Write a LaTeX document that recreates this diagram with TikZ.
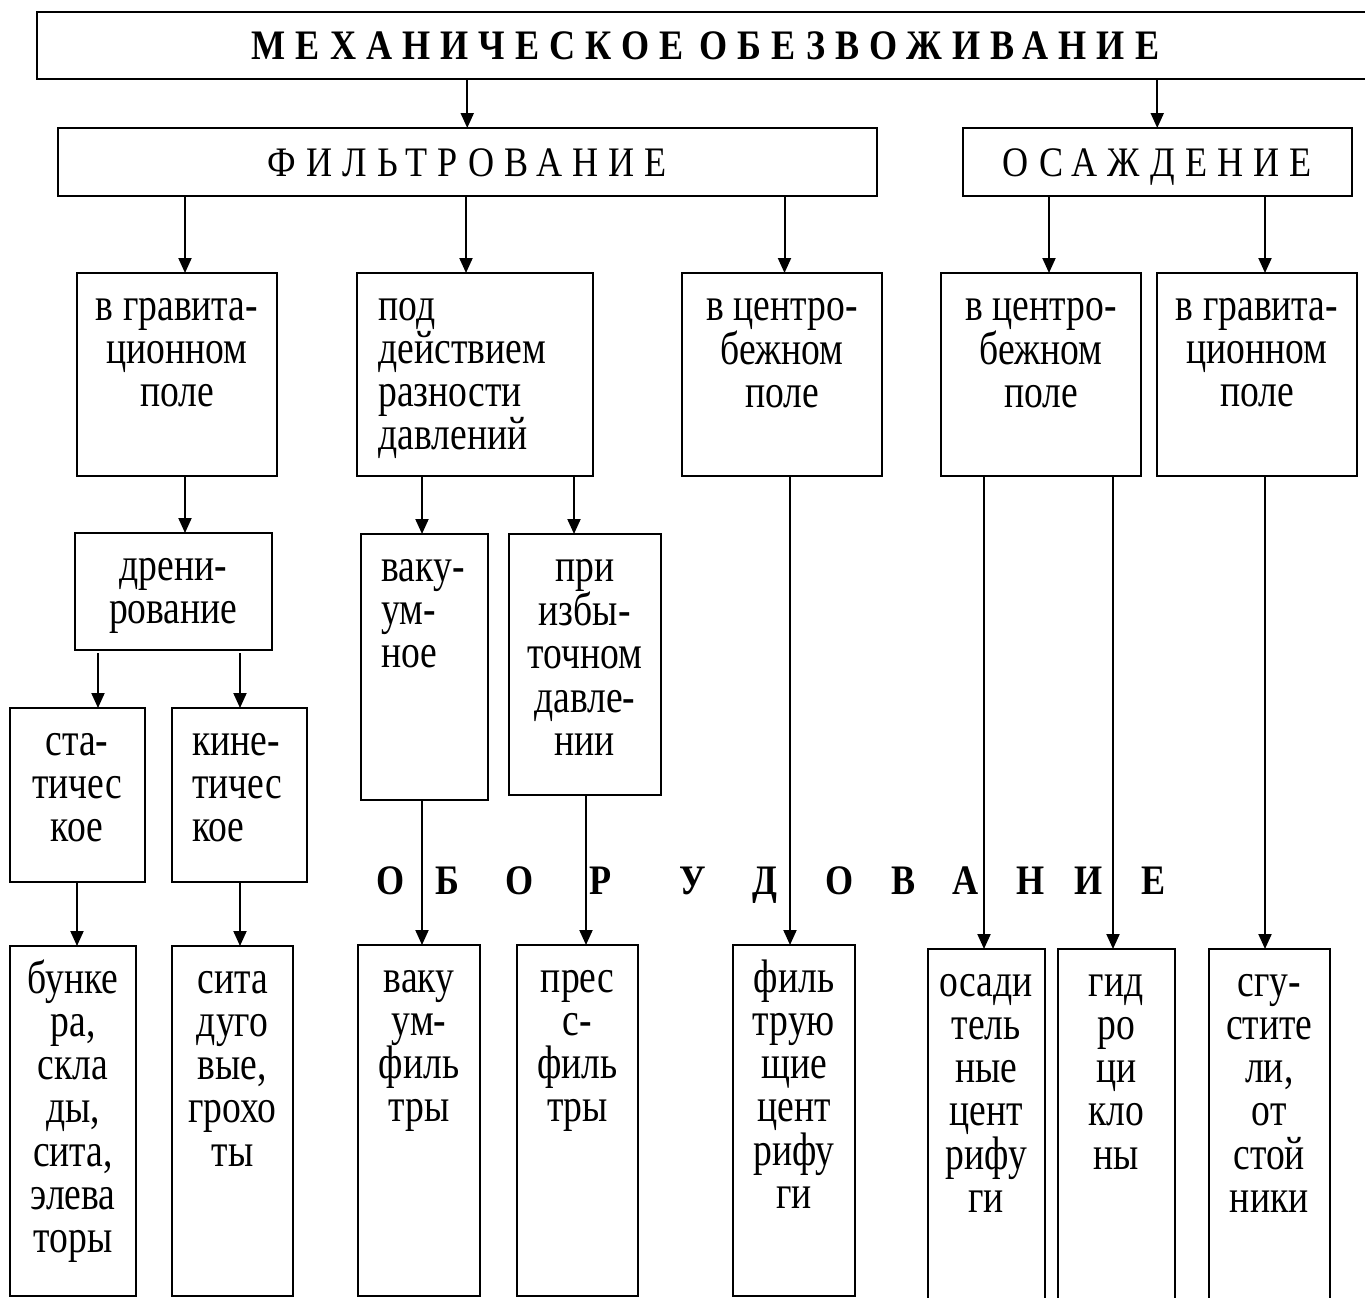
\documentclass[tikz,border=0pt]{standalone}
\usepackage{fontspec}
\setmainfont{Liberation Serif}[FakeStretch=0.80]
\newfontfamily\spacedfont{Liberation Serif}[FakeStretch=0.86,LetterSpace=24]
\newfontfamily\eqfont{Liberation Serif}[FakeStretch=0.86]
\usetikzlibrary{arrows.meta}

\newcommand\mybox[7]{%
  \node[box] (#1) at ({(#2+#4)/2},{(#3+#5)/2})
    {\parbox[c][\dimexpr #5pt-#3pt\relax][t]{\dimexpr #4pt-#2pt\relax}{#6\rule{0pt}{47pt}#7}};}
\newcommand\ctr{\centering}
\newcommand\lft[1]{\raggedright\leftskip=#1pt\relax}

\begin{document}
\begin{tikzpicture}[x=1pt,y=-1pt,
  box/.style={draw, line width=2pt, inner sep=0pt, outer sep=0pt,
              font=\fontsize{47}{43.3}\selectfont},
  head/.style={draw, line width=2pt, inner sep=0pt, outer sep=0pt,
               text height=28pt, text depth=0pt},
  arr/.style={line width=2pt, -{Triangle[length=15pt,width=13pt]}},
  eqletter/.style={anchor=base, inner sep=0pt, font=\eqfont\bfseries\fontsize{42}{44}\selectfont}]
\useasboundingbox (0,0) rectangle (1365,1298);
\clip (0,0) rectangle (1365,1298);

% headers
\node[head, minimum width=1337pt, minimum height=67pt,
      font=\spacedfont\bfseries\fontsize{42}{44}\selectfont] (title) at (705.5,45.5)
      {МЕХАНИЧЕСКОЕ\hspace{16pt}ОБЕЗВОЖИВАНИЕ};
\node[head, minimum width=818.5pt, minimum height=68pt,
      font=\spacedfont\fontsize{42}{44}\selectfont] (filt) at (467.25,162) {ФИЛЬТРОВАНИЕ};
\node[head, minimum width=389.5pt, minimum height=68pt,
      font=\spacedfont\fontsize{42}{44}\selectfont] (osazh) at (1157.25,162) {ОСАЖДЕНИЕ};

% second row
\mybox{A}{77}{273}{277}{476}{\ctr}{в гравита-\\ционном\\поле}
\mybox{B}{357}{273}{593}{476}{\lft{21.5}}{под\\действием\\разности\\давлений}
\mybox{C}{682}{273}{882}{476}{\ctr}{в центро-\\бежном\\поле}
\mybox{D}{941}{273}{1141}{476}{\ctr}{в центро-\\бежном\\поле}
\mybox{E}{1157}{273}{1357}{476}{\ctr}{в гравита-\\ционном\\поле}

% third row
\mybox{dren}{75}{533}{271.5}{650}{\ctr}{дрени-\\рование}
\mybox{vak}{360.5}{534}{487.5}{800}{\lft{21}}{ваку-\\ум-\\ное}
\mybox{izb}{509}{534}{660.5}{795}{\ctr}{при\\избы-\\точном\\давле-\\нии}

% fourth row
\mybox{stat}{9.5}{708}{144.5}{882}{\ctr}{ста-\\тичес\\кое}
\mybox{kin}{172}{708}{306.5}{882}{\lft{20}}{кине-\\тичес\\кое}

% equipment row
\mybox{bunk}{10}{946}{136}{1296}{\ctr}{бунке\\ра,\\скла\\ды,\\сита,\\элева\\торы}
\mybox{sita}{172}{946}{293}{1296}{\ctr}{сита\\дуго\\вые,\\грохо\\ты}
\mybox{vakf}{358}{945}{480}{1296}{\ctr}{ваку\\ум-\\филь\\тры}
\mybox{press}{517}{945}{638}{1296}{\ctr}{прес\\с-\\филь\\тры}
\mybox{filcent}{733}{945}{855}{1296}{\ctr}{филь\\трую\\щие\\цент\\рифу\\ги}
\mybox{osad}{927.5}{949}{1045}{1330}{\ctr}{осади\\тель\\ные\\цент\\рифу\\ги}
\mybox{gidro}{1057.5}{949}{1175}{1330}{\ctr}{гид\\ро\\ци\\кло\\ны}
\mybox{sgust}{1208.5}{949}{1330}{1330}{\ctr}{сгу-\\стите\\ли,\\от\\стой\\ники}

% spaced word
\node[eqletter] (eq1) at (391,894) {О};
\node[eqletter] (eq2) at (447,894) {Б};
\node[eqletter] (eq3) at (519.5,894) {О};
\node[eqletter] (eq4) at (600.5,894) {Р};
\node[eqletter] (eq5) at (693,894) {У};
\node[eqletter] (eq6) at (765,894) {Д};
\node[eqletter] (eq7) at (840,894) {О};
\node[eqletter] (eq8) at (903.5,894) {В};
\node[eqletter] (eq9) at (966,894) {А};
\node[eqletter] (eq10) at (1031,894) {Н};
\node[eqletter] (eq11) at (1089,894) {И};
\node[eqletter] (eq12) at (1154,894) {Е};

% column positions of connectors
\coordinate (xA) at (185,0);
\coordinate (xB) at (466,0);
\coordinate (xC) at (784.5,0);
\coordinate (xD) at (1049,0);
\coordinate (xE) at (1265,0);
\coordinate (xvak) at (422,0);
\coordinate (xizb) at (574,0);
\coordinate (xpress) at (586,0);
\coordinate (xst) at (98,0);
\coordinate (xkin) at (240,0);
\coordinate (xbunk) at (77,0);
\coordinate (xfc) at (790,0);
\coordinate (xos) at (984,0);
\coordinate (xgid) at (1113,0);

% connectors
\draw[arr] (title.south -| filt.north) -- (filt.north);
\draw[arr] (title.south -| osazh.north) -- (osazh.north);
\draw[arr] (filt.south -| xA) -- (A.north -| xA);
\draw[arr] (filt.south -| xB) -- (B.north -| xB);
\draw[arr] (filt.south -| xC) -- (C.north -| xC);
\draw[arr] (osazh.south -| xD) -- (D.north -| xD);
\draw[arr] (osazh.south -| xE) -- (E.north -| xE);
\draw[arr] (A.south -| xA) -- (dren.north -| xA);
\draw[arr] (B.south -| xvak) -- (vak.north -| xvak);
\draw[arr] (B.south -| xizb) -- (izb.north -| xizb);
\draw[arr, shorten <=3pt] (dren.south -| xst) -- (stat.north -| xst);
\draw[arr, shorten <=3pt] (dren.south -| xkin) -- (kin.north -| xkin);
\draw[arr] (stat.south -| xbunk) -- (bunk.north -| xbunk);
\draw[arr] (kin.south -| xkin) -- (sita.north -| xkin);
\draw[arr] (vak.south -| xvak) -- (vakf.north -| xvak);
\draw[arr] (izb.south -| xpress) -- (press.north -| xpress);
\draw[arr] (C.south -| xfc) -- (filcent.north -| xfc);
\draw[arr] (D.south -| xos) -- (osad.north -| xos);
\draw[arr] (D.south -| xgid) -- (gidro.north -| xgid);
\draw[arr] (E.south -| xE) -- (sgust.north -| xE);
\end{tikzpicture}
\end{document}
